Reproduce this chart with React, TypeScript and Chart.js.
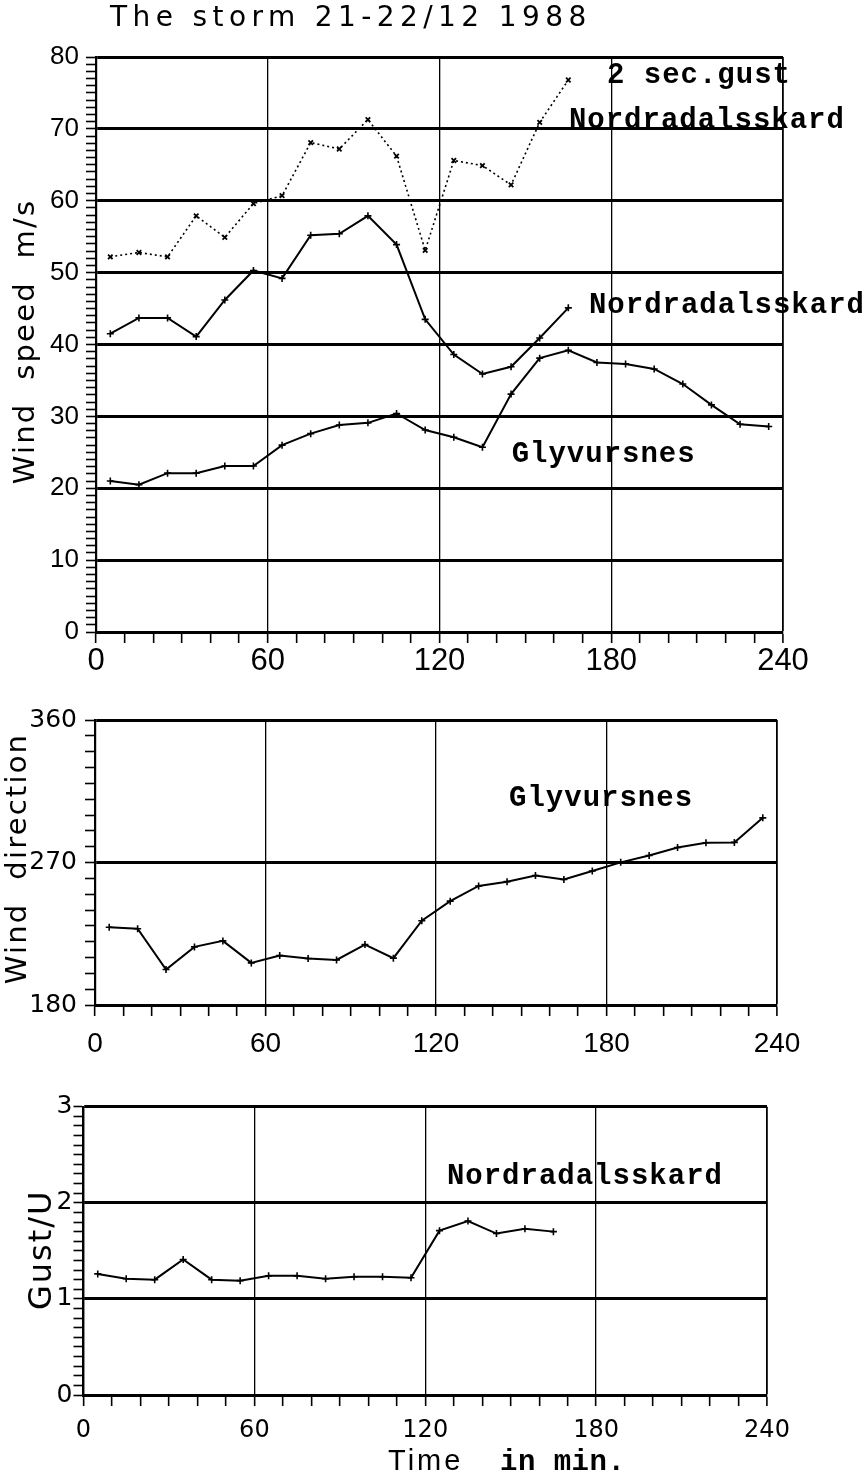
import React, { useEffect, useRef } from 'react';
import { Chart, registerables } from 'chart.js';

Chart.register(...registerables);

// ---- data ----
const TIME_NORD = [5, 15, 25, 35, 45, 55, 65, 75, 85, 95, 105, 115, 125, 135, 145, 155, 165];
const TIME_GLYV = [5, 15, 25, 35, 45, 55, 65, 75, 85, 95, 105, 115, 125, 135, 145, 155, 165, 175, 185, 195, 205, 215, 225, 235];

const GUST_NORD = [52.2, 52.8, 52.2, 57.9, 54.9, 59.6, 60.7, 68.1, 67.2, 71.3, 66.2, 53.1, 65.6, 64.9, 62.2, 70.9, 76.8];
const MEAN_NORD = [41.5, 43.7, 43.7, 41.1, 46.2, 50.3, 49.2, 55.2, 55.4, 57.9, 53.9, 43.5, 38.6, 35.9, 36.9, 40.9, 45.1];
const SPEED_GLYV = [21.0, 20.5, 22.1, 22.1, 23.1, 23.1, 26.0, 27.6, 28.8, 29.1, 30.4, 28.1, 27.1, 25.7, 33.1, 38.1, 39.2, 37.5, 37.3, 36.6, 34.5, 31.6, 28.9, 28.6];
const DIR_GLYV = [229.1, 228.2, 202.4, 216.7, 220.5, 206.6, 211.2, 209.4, 208.5, 218.2, 209.6, 233.2, 245.6, 255.2, 257.9, 261.8, 259.3, 264.6, 270.1, 274.4, 279.5, 282.5, 282.7, 298.2];
const RATIO_NORD = [1.26, 1.21, 1.2, 1.41, 1.2, 1.19, 1.24, 1.24, 1.21, 1.23, 1.23, 1.22, 1.71, 1.81, 1.68, 1.73, 1.7];

const X_LABELS = [0, 60, 120, 180, 240];
const SPEED_LABELS = [0, 10, 20, 30, 40, 50, 60, 70, 80];
const DIR_LABELS = [180, 270, 360];
const RATIO_LABELS = [0, 1, 2, 3];

const pts = (xs: number[], ys: number[]) => xs.map((x, i) => ({ x, y: ys[i] }));
const inList = (list: number[], v: number) => list.some((l) => Math.abs(l - v) < 1e-6);

const MONO = 'bold 29px "Liberation Mono"';

const textPlugin = {
  id: 'texts',
  afterDraw(chart: any, _args: any, opts: any) {
    const { ctx, chartArea, scales } = chart;
    ctx.save();
    ctx.fillStyle = '#000';
    ctx.textBaseline = 'alphabetic';
    ctx.textAlign = 'left';
    (opts.notes || []).forEach((n: any) => {
      ctx.font = n.font || MONO;
      ctx.letterSpacing = n.spacing || '1px';
      ctx.fillText(n.text, scales.x.getPixelForValue(n.x), scales.y.getPixelForValue(n.y));
    });
    (opts.free || []).forEach((n: any) => {
      ctx.font = n.font;
      ctx.letterSpacing = n.spacing || '0px';
      ctx.fillText(n.text, n.px, n.py);
    });
    if (opts.yTitle) {
      const t = opts.yTitle;
      ctx.save();
      ctx.translate(t.x, (chartArea.top + chartArea.bottom) / 2 + (t.dy || 0));
      ctx.rotate(-Math.PI / 2);
      ctx.font = t.font;
      ctx.letterSpacing = t.spacing || '0px';
      ctx.textAlign = 'center';
      ctx.fillText(t.text, 0, 0);
      ctx.restore();
    }
    ctx.restore();
  },
};

function makeConfig(o: any) {
  return {
    type: 'line',
    data: { datasets: o.datasets },
    plugins: [textPlugin],
    options: {
      animation: false,
      responsive: false,
      devicePixelRatio: 1,
      events: [],
      layout: { padding: o.padding },
      plugins: {
        legend: { display: false },
        tooltip: { enabled: false },
        title: { display: false },
        texts: o.texts,
      },
      scales: {
        x: {
          type: 'linear',
          min: 0,
          max: 240,
          afterFit: (s: any) => { s.height = o.xHeight; },
          ticks: {
            stepSize: 10,
            autoSkip: false,
            maxRotation: 0,
            padding: o.xPad,
            color: '#000',
            font: o.xFont,
            callback: (v: number) => (inList(X_LABELS, v) ? String(v) : ''),
          },
          grid: {
            color: (c: any) => (c.tick && inList(X_LABELS, c.tick.value) ? '#000' : 'rgba(0,0,0,0)'),
            lineWidth: (c: any) => (c.tick && c.tick.value === 240 ? 1.8 : 1.3),
            tickColor: '#000',
            tickWidth: 1.6,
            tickLength: 11,
          },
          border: { display: true, color: '#000', width: 3 },
        },
        y: {
          type: 'linear',
          min: o.yMin,
          max: o.yMax,
          afterFit: (s: any) => { s.width = o.yWidth; },
          ticks: {
            stepSize: o.yStep,
            autoSkip: false,
            padding: o.yPad,
            color: '#000',
            font: o.yFont,
            callback: (v: number) => (inList(o.yLabels, v) ? String(Math.round(v)) : ''),
          },
          grid: {
            color: (c: any) => (c.tick && inList(o.yLabels, c.tick.value) ? '#000' : 'rgba(0,0,0,0)'),
            lineWidth: (c: any) => (c.tick && inList(o.yLabels, c.tick.value) ? 3 : 1),
            tickColor: '#000',
            tickWidth: 1.6,
            tickLength: 10,
          },
          border: { display: true, color: '#000', width: 2.2 },
        },
      },
    },
  };
}

const solid = (label: string, data: any[]) => ({
  label,
  data,
  borderColor: '#000',
  borderWidth: 2,
  pointStyle: 'cross',
  pointRadius: 3.5,
  pointBorderWidth: 1.6,
  pointBorderColor: '#000',
  fill: false,
  tension: 0,
});

const topConfig = makeConfig({
  datasets: [
    {
      label: '2 sec.gust Nordradalsskard',
      data: pts(TIME_NORD, GUST_NORD),
      borderColor: '#000',
      borderWidth: 1.6,
      borderDash: [2, 3],
      pointStyle: 'crossRot',
      pointRadius: 3.2,
      pointBorderWidth: 1.8,
      pointBorderColor: '#000',
      fill: false,
      tension: 0,
    },
    solid('Nordradalsskard', pts(TIME_NORD, MEAN_NORD)),
    solid('Glyvursnes', pts(TIME_GLYV, SPEED_GLYV)),
  ],
  yMin: 0, yMax: 80, yStep: 1, yLabels: SPEED_LABELS,
  yFont: { family: '"Liberation Sans"', size: 26 }, yPad: 7, yWidth: 96,
  xFont: { family: '"Liberation Sans"', size: 31 }, xPad: 0, xHeight: 58,
  padding: { left: 0, right: 82, top: 57, bottom: 0 },
  texts: {
    notes: [
      { text: '2 sec.gust', x: 178.5, y: 76.4 },
      { text: 'Nordradalsskard', x: 165.2, y: 70.1 },
      { text: 'Nordradalsskard', x: 172.2, y: 44.4 },
      { text: 'Glyvursnes', x: 145.2, y: 23.7 },
    ],
    free: [{ text: 'The storm 21-22/12 1988', px: 110, py: 26, font: '28px "DejaVu Sans"', spacing: '5.4px' }],
    yTitle: { text: 'Wind  speed  m/s', x: 34, dy: -3, font: '29px "DejaVu Sans"', spacing: '2.2px' },
  },
});

const midConfig = makeConfig({
  datasets: [solid('Glyvursnes', pts(TIME_GLYV, DIR_GLYV))],
  yMin: 180, yMax: 360, yStep: 10, yLabels: DIR_LABELS,
  yFont: { family: '"DejaVu Sans"', size: 25 }, yPad: 8, yWidth: 95,
  xFont: { family: '"Liberation Sans"', size: 28 }, xPad: 11, xHeight: 55,
  padding: { left: 0, right: 88, top: 30, bottom: 0 },
  texts: {
    notes: [{ text: 'Glyvursnes', x: 145.7, y: 305.7 }],
    yTitle: { text: 'Wind  direction', x: 26, dy: -4, font: '29px "DejaVu Sans"', spacing: '2.2px' },
  },
});

const botConfig = makeConfig({
  datasets: [solid('Nordradalsskard', pts(TIME_NORD, RATIO_NORD))],
  yMin: 0, yMax: 3, yStep: 0.1, yLabels: RATIO_LABELS,
  yFont: { family: '"DejaVu Sans"', size: 25 }, yPad: 1, yWidth: 83.5,
  xFont: { family: '"DejaVu Sans"', size: 24 }, xPad: 10, xHeight: 87,
  padding: { left: 0, right: 98, top: 16.7, bottom: 0 },
  texts: {
    notes: [{ text: 'Nordradalsskard', x: 127.6, y: 2.2 }],
    free: [
      { text: 'Time', px: 388, py: 380, font: '29px "Liberation Sans"', spacing: '3px' },
      { text: 'in min.', px: 500, py: 380, font: MONO, spacing: '0.5px' },
    ],
    yTitle: { text: 'Gust/U', x: 51, dy: -1, font: '32px "DejaVu Sans"', spacing: '2px' },
  },
});

function ChartCanvas({ config, top, height }: { config: any; top: number; height: number }) {
  const ref = useRef<HTMLCanvasElement | null>(null);
  useEffect(() => {
    if (!ref.current) return;
    const chart = new Chart(ref.current, config);
    return () => chart.destroy();
  }, [config]);
  return (
    <canvas
      ref={ref}
      width={865}
      height={height}
      style={{ position: 'absolute', left: 0, top, width: 865, height, display: 'block' }}
    />
  );
}

export default function App() {
  return (
    <div style={{ position: 'absolute', left: 0, top: 0, width: 865, height: 1482, background: '#fff', overflow: 'hidden' }}>
      <ChartCanvas config={topConfig} top={0} height={690} />
      <ChartCanvas config={midConfig} top={690} height={370} />
      <ChartCanvas config={botConfig} top={1090} height={392} />
    </div>
  );
}
